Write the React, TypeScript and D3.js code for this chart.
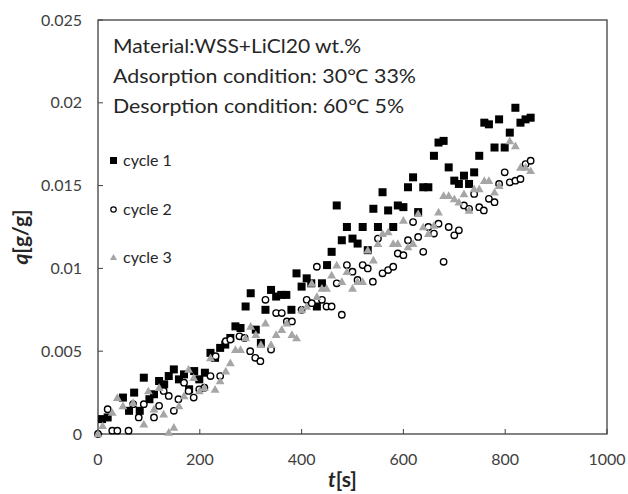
import * as d3 from "d3";

const c1T = [8, 19, 49, 61, 71, 82, 90, 101, 110, 120, 130, 139, 149, 159, 169, 179, 189, 199, 210, 221, 230, 240, 250, 260, 270, 280, 290, 300, 310, 320, 329, 340, 350, 360, 370, 380, 390, 400, 410, 419, 430, 440, 450, 459, 469, 479, 489, 500, 510, 520, 530, 541, 550, 559, 570, 580, 589, 600, 609, 619, 629, 639, 649, 660, 669, 679, 689, 700, 709, 719, 729, 739, 749, 759, 768, 779, 788, 799, 809, 820, 830, 840, 850];
const c1Q = [0.0009, 0.001, 0.0022, 0.0014, 0.0025, 0.0014, 0.0034, 0.0021, 0.0024, 0.0032, 0.003, 0.0035, 0.0039, 0.0033, 0.0036, 0.0027, 0.0038, 0.0033, 0.0037, 0.0049, 0.0046, 0.0052, 0.0054, 0.0058, 0.0065, 0.0064, 0.0077, 0.0085, 0.0063, 0.0055, 0.0075, 0.0087, 0.0083, 0.0084, 0.0084, 0.0075, 0.0097, 0.0089, 0.0094, 0.0091, 0.0077, 0.0091, 0.0102, 0.011, 0.0138, 0.0117, 0.0125, 0.0118, 0.0115, 0.0125, 0.0111, 0.0136, 0.0125, 0.0146, 0.0135, 0.0125, 0.0138, 0.0137, 0.0149, 0.0155, 0.0134, 0.0149, 0.0149, 0.0168, 0.0176, 0.0177, 0.0161, 0.0153, 0.0151, 0.0156, 0.0151, 0.0158, 0.0168, 0.0188, 0.0187, 0.0173, 0.019, 0.0173, 0.0182, 0.0197, 0.0188, 0.019, 0.0191];

const c2T = [0, 19, 28, 38, 60, 69, 80, 90, 110, 120, 129, 139, 149, 158, 169, 178, 188, 199, 209, 221, 231, 240, 251, 260, 278, 288, 299, 309, 319, 329, 340, 350, 361, 371, 381, 400, 410, 420, 430, 440, 449, 459, 469, 479, 489, 500, 510, 520, 530, 540, 550, 559, 570, 580, 589, 600, 609, 619, 629, 639, 649, 660, 669, 679, 689, 700, 709, 719, 729, 739, 749, 758, 768, 779, 788, 799, 809, 820, 830, 840, 850];
const c2Q = [0, 0.0015, 0.0002, 0.0002, 0.0002, 0.0018, 0.001, 0.0018, 0.001, 0.0017, 0.0026, 0.0023, 0.0014, 0.0021, 0.0031, 0.0026, 0.0022, 0.0027, 0.0028, 0.0035, 0.0047, 0.0035, 0.0056, 0.0057, 0.0059, 0.0058, 0.005, 0.0046, 0.0044, 0.0081, 0.0051, 0.0073, 0.0073, 0.0068, 0.0068, 0.0075, 0.0081, 0.0079, 0.0101, 0.0081, 0.0077, 0.0077, 0.0091, 0.0072, 0.0102, 0.0098, 0.0093, 0.0102, 0.01, 0.0092, 0.0118, 0.0097, 0.0099, 0.0101, 0.0109, 0.0108, 0.0117, 0.0128, 0.0119, 0.011, 0.0125, 0.0121, 0.0127, 0.0104, 0.0125, 0.012, 0.0123, 0.0138, 0.0136, 0.0145, 0.0137, 0.0135, 0.0142, 0.014, 0.0151, 0.0158, 0.0152, 0.0153, 0.0154, 0.0163, 0.0165];

const c3T = [0, 9, 28, 38, 49, 69, 90, 99, 110, 120, 129, 139, 149, 159, 169, 178, 188, 199, 209, 221, 230, 240, 251, 260, 270, 280, 290, 300, 310, 320, 329, 340, 350, 361, 371, 381, 390, 400, 410, 420, 430, 440, 449, 459, 469, 479, 489, 500, 510, 520, 530, 541, 550, 559, 570, 580, 589, 600, 609, 619, 629, 639, 649, 660, 669, 679, 689, 700, 709, 719, 729, 739, 749, 759, 768, 779, 788, 809, 820, 830, 840, 850];
const c3Q = [0, 0.0005, 0.0013, 0.0022, 0.0017, 0.0019, 0.0006, 0.0026, 0.0015, 0.0028, 0.0012, 0.0001, 0.0004, 0.0017, 0.0023, 0.0039, 0.0034, 0.0026, 0.0028, 0.0046, 0.0027, 0.0032, 0.0038, 0.0043, 0.0051, 0.0051, 0.0058, 0.0065, 0.006, 0.0054, 0.0067, 0.0054, 0.006, 0.0063, 0.0067, 0.006, 0.0058, 0.0075, 0.0077, 0.0091, 0.0083, 0.0088, 0.0088, 0.0096, 0.0102, 0.0092, 0.0098, 0.0088, 0.0092, 0.0092, 0.0111, 0.0105, 0.0115, 0.0121, 0.0122, 0.0115, 0.0115, 0.0129, 0.0113, 0.0115, 0.0133, 0.0125, 0.0121, 0.0126, 0.0134, 0.0144, 0.0144, 0.0142, 0.014, 0.0145, 0.0135, 0.0148, 0.0148, 0.0153, 0.0153, 0.0146, 0.015, 0.0177, 0.0174, 0.0161, 0.0161, 0.0159];

const xTicks = [0, 200, 400, 600, 800, 1000];
const yTicks = [0, 0.005, 0.01, 0.015, 0.02, 0.025];
const yTickLabels = ["0", "0.005", "0.01", "0.015", "0.02", "0.025"];
const notes = [
  "Material:WSS+LiCl20 wt.%",
  "Adsorption condition: 30\u2103 33%",
  "Desorption condition: 60\u2103 5%",
];
const seriesNames = ["cycle 1", "cycle 2", "cycle 3"];

const W = 628;
const H = 494;
const left = 98;
const right = 607;
const top = 20;
const bottom = 434;
const font = "Lato, 'Open Sans', sans-serif";
const grey = "#a6a6a6";

export default function App() {
  const x = d3.scaleLinear().domain([0, 1000]).range([left, right]);
  const y = d3.scaleLinear().domain([0, 0.025]).range([bottom, top]);
  const tri = d3.symbol().type(d3.symbolTriangle).size(34)() as string;
  const triSmall = d3.symbol().type(d3.symbolTriangle).size(22)() as string;

  const s1 = c1T.map((t, i) => [t, c1Q[i]]);
  const s2 = c2T.map((t, i) => [t, c2Q[i]]);
  const s3 = c3T.map((t, i) => [t, c3Q[i]]);

  return (
    <svg
      width={W}
      height={H}
      style={{ position: "absolute", left: 0, top: 0, background: "#fff" }}
    >
      <rect
        x={left}
        y={top}
        width={right - left}
        height={bottom - top}
        fill="none"
        stroke="#404040"
        strokeWidth={1.3}
      />
      {yTicks.map((v, i) => (
        <g key={"y" + i}>
          <line x1={left} x2={left + 5} y1={y(v)} y2={y(v)} stroke="#404040" />
          <text
            x={82}
            y={y(v) + 5.5}
            textAnchor="end"
            fontFamily={font}
            fontSize={16}
            fill="#404040"
          >
            {yTickLabels[i]}
          </text>
        </g>
      ))}
      {xTicks.map((v, i) => (
        <g key={"x" + i}>
          <line x1={x(v)} x2={x(v)} y1={bottom} y2={bottom - 5} stroke="#404040" />
          <text
            x={x(v)}
            y={465}
            textAnchor="middle"
            fontFamily={font}
            fontSize={16}
            fill="#404040"
          >
            {v}
          </text>
        </g>
      ))}
      <text
        x={(left + right) / 2 - 10}
        y={487}
        textAnchor="middle"
        fontFamily={font}
        fontSize={21}
        fontWeight="bold"
        fill="#262626"
      >
        <tspan fontStyle="italic">t</tspan>[s]
      </text>
      <text
        transform={`translate(28,237) rotate(-90)`}
        textAnchor="middle"
        fontFamily={font}
        fontSize={21}
        fontWeight="bold"
        fill="#262626"
      >
        <tspan fontStyle="italic">q</tspan>[g/g]
      </text>

      {s1.map((d, i) => (
        <rect
          key={"a" + i}
          x={x(d[0]) - 4}
          y={y(d[1]) - 4}
          width={8}
          height={8}
          fill="#000"
        />
      ))}
      {s2.map((d, i) => (
        <circle
          key={"b" + i}
          cx={x(d[0])}
          cy={y(d[1])}
          r={3.2}
          fill="#fff"
          stroke="#000"
          strokeWidth={1.4}
        />
      ))}
      {s3.map((d, i) => (
        <path
          key={"c" + i}
          d={tri}
          transform={`translate(${x(d[0])},${y(d[1]) + 0.8})`}
          fill={grey}
        />
      ))}

      {notes.map((n, i) => (
        <text
          key={"n" + i}
          x={113}
          y={53 + i * 30}
          fontFamily={font}
          fontSize={19}
          fill="#262626"
          textLength={[248, 303, 291][i]}
          lengthAdjust="spacingAndGlyphs"
        >
          {n}
        </text>
      ))}

      <rect x={110} y={157} width={7} height={7} fill="#000" />
      <circle cx={113.5} cy={209.5} r={2.7} fill="#fff" stroke="#000" strokeWidth={1.2} />
      <path d={triSmall} transform="translate(113.5,258)" fill={grey} />
      {seriesNames.map((s, i) => (
        <text
          key={"l" + i}
          x={123}
          y={[166, 215, 263][i]}
          fontFamily={font}
          fontSize={16}
          fill="#262626"
        >
          {s}
        </text>
      ))}
    </svg>
  );
}
